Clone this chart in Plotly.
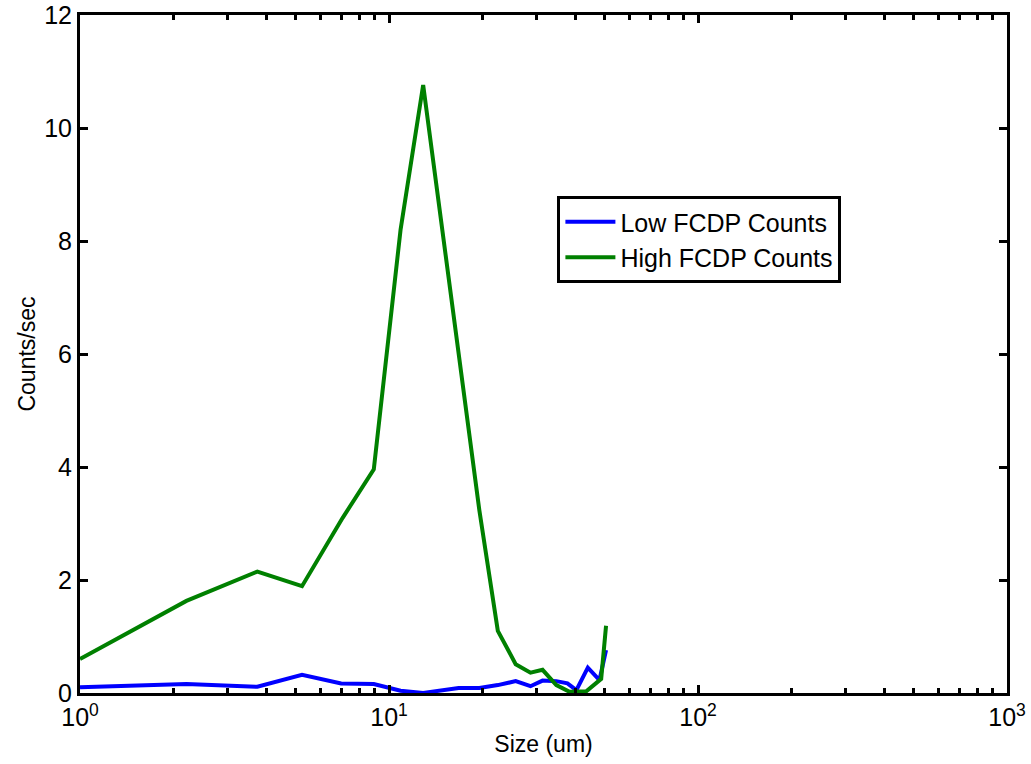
import plotly.graph_objects as go

# Data
low_x = [1.0, 2.21, 3.75, 5.23, 7.0, 8.93, 10.9, 12.9, 16.8, 19.6, 22.5, 25.7, 28.7, 31.4, 34.8, 37.8, 40.4, 44.0, 48.0, 50.4]
low_y = [0.10, 0.16, 0.11, 0.32, 0.17, 0.16, 0.04, 0.0, 0.09, 0.09, 0.14, 0.21, 0.12, 0.22, 0.21, 0.17, 0.05, 0.45, 0.23, 0.76]

high_x = [1.0, 2.21, 3.75, 5.23, 7.08, 8.93, 10.9, 12.9, 19.6, 22.5, 25.7, 28.7, 31.4, 34.8, 38.4, 43.5, 48.6, 50.4]
high_y = [0.60, 1.63, 2.15, 1.89, 3.10, 3.96, 8.20, 10.76, 3.24, 1.10, 0.51, 0.36, 0.41, 0.14, 0.02, 0.03, 0.25, 1.19]

x_tickvals = [1, 10, 100, 1000]
x_ticktext = ["10<sup>0</sup>", "10<sup>1</sup>", "10<sup>2</sup>", "10<sup>3</sup>"]
x_minor = [m * d for d in (1, 10, 100) for m in range(2, 10)]
y_tickvals = [0, 2, 4, 6, 8, 10, 12]

FONT = "Liberation Sans, Arial, sans-serif"

fig = go.Figure()
fig.add_trace(go.Scatter(x=low_x, y=low_y, mode="lines", name="Low FCDP Counts",
                         line=dict(color="rgb(0,0,255)", width=4)))
fig.add_trace(go.Scatter(x=high_x, y=high_y, mode="lines", name="High FCDP Counts",
                         line=dict(color="rgb(0,128,0)", width=4)))

fig.update_layout(
    width=1031, height=764,
    margin=dict(l=80, r=24, t=15, b=71),
    paper_bgcolor="white", plot_bgcolor="white",
    font=dict(family=FONT, color="black", size=22),
    showlegend=True,
    legend=dict(x=0.515, y=0.733, xanchor="left", yanchor="top",
                bordercolor="black", borderwidth=3, bgcolor="white",
                itemwidth=50,
                font=dict(size=25, family=FONT), tracegroupgap=0),
    xaxis=dict(type="log", range=[0, 3], tickmode="array", tickvals=x_tickvals,
               ticktext=x_ticktext, ticks="inside", ticklen=8, tickwidth=3,
               tickcolor="black", showline=True, linecolor="black", linewidth=3,
               mirror="allticks", showgrid=False, zeroline=False, automargin=False,
               ticklabeloverflow="allow",
               tickfont=dict(size=25, family=FONT),
               minor=dict(tickmode="array", tickvals=x_minor, ticks="inside",
                          ticklen=5, tickwidth=3, tickcolor="black", showgrid=False),
               title=dict(text="Size (um)", font=dict(size=23, family=FONT), standoff=6)),
    yaxis=dict(range=[0, 12], tickmode="array", tickvals=y_tickvals,
               ticks="inside", ticklen=8, tickwidth=3, tickcolor="black",
               showline=True, linecolor="black", linewidth=3, mirror="allticks",
               showgrid=False, zeroline=False, automargin=False,
               ticklabeloverflow="allow",
               tickfont=dict(size=25, family=FONT),
               title=dict(text="Counts/sec", font=dict(size=23, family=FONT), standoff=3)),
)

fig.write_html("out.html", config={"displayModeBar": False},
               post_script="document.body.style.margin='0';document.body.style.padding='0';")
